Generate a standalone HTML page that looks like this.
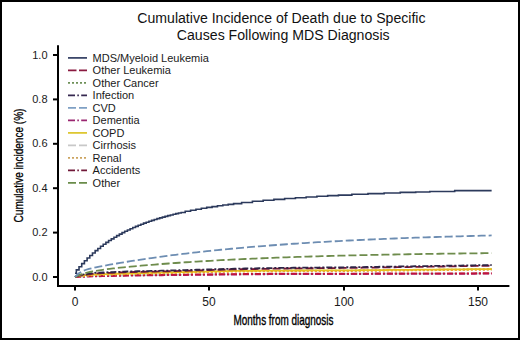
<!DOCTYPE html>
<html><head><meta charset="utf-8"><title>Chart</title>
<style>html,body{margin:0;padding:0;background:#fff;}body{width:520px;height:340px;overflow:hidden;font-family:"Liberation Sans",sans-serif;}svg{display:block;}</style>
</head><body>
<svg width="520" height="340" viewBox="0 0 520 340">
<rect x="0" y="0" width="520" height="340" fill="#fff"/>
<g font-family="Liberation Sans, sans-serif" fill="#111">
<text x="137.3" y="22.9" font-size="14" textLength="288.2" lengthAdjust="spacingAndGlyphs">Cumulative Incidence of Death due to Specific</text>
<text x="176.8" y="40.2" font-size="14" textLength="212.8" lengthAdjust="spacingAndGlyphs">Causes Following MDS Diagnosis</text>
</g>
<g fill="none" stroke-width="1.8" stroke-linejoin="miter">
<path d="M75.00,277.00L78.47,276.75L81.94,276.62L85.42,276.49L88.89,276.36L92.36,276.23L95.83,276.10L99.30,276.03L102.78,275.97L106.25,275.90L109.72,275.83L113.19,275.76L116.66,275.69L120.14,275.62L123.61,275.55L127.08,275.48L130.55,275.42L134.02,275.38L137.50,275.33L140.97,275.28L144.44,275.24L147.91,275.19L151.38,275.15L154.86,275.10L158.33,275.06L161.80,275.01L165.27,274.96L168.74,274.92L172.22,274.88L175.69,274.85L179.16,274.82L182.63,274.79L186.10,274.75L189.58,274.72L193.05,274.69L196.52,274.66L199.99,274.62L203.46,274.59L206.94,274.56L210.41,274.53L213.88,274.49L217.35,274.46L220.82,274.43L224.30,274.40L227.77,274.37L231.24,274.33L234.71,274.30L238.18,274.27L241.66,274.24L245.13,274.21L248.60,274.17L252.07,274.14L255.54,274.11L259.02,274.08L262.49,274.05L265.96,274.01L269.43,273.98L272.90,273.95L276.38,273.92L279.85,273.89L283.32,273.89L286.79,273.88L290.26,273.87L293.74,273.87L297.21,273.86L300.68,273.86L304.15,273.85L307.62,273.85L311.10,273.84L314.57,273.84L318.04,273.83L321.51,273.82L324.98,273.82L328.46,273.81L331.93,273.81L335.40,273.80L338.87,273.80L342.34,273.79L345.82,273.79L349.29,273.78L352.76,273.78L356.23,273.77L359.70,273.77L363.18,273.76L366.65,273.76L370.12,273.75L373.59,273.74L377.06,273.74L380.54,273.73L384.01,273.73L387.48,273.72L390.95,273.72L394.42,273.71L397.90,273.71L401.37,273.70L404.84,273.70L408.31,273.69L411.78,273.69L415.26,273.68L418.73,273.68L422.20,273.67L425.67,273.67L429.14,273.65L432.62,273.64L436.09,273.63L439.56,273.62L443.03,273.61L446.50,273.60L449.98,273.59L453.45,273.57L456.92,273.56L460.39,273.55L463.86,273.54L467.34,273.53L470.81,273.52L474.28,273.51L477.75,273.49L481.22,273.48L484.70,273.47L488.17,273.46L491.64,273.45" stroke="#c6c6c6" stroke-dasharray="8 3"/>
<path d="M75.00,277.00L78.47,276.97L81.94,276.84L85.42,276.71L88.89,276.58L92.36,276.45L95.83,276.33L99.30,276.26L102.78,276.19L106.25,276.12L109.72,276.05L113.19,275.98L116.66,275.91L120.14,275.84L123.61,275.77L127.08,275.70L130.55,275.64L134.02,275.60L137.50,275.55L140.97,275.51L144.44,275.46L147.91,275.41L151.38,275.37L154.86,275.32L158.33,275.28L161.80,275.23L165.27,275.19L168.74,275.14L172.22,275.11L175.69,275.07L179.16,275.04L182.63,275.01L186.10,274.98L189.58,274.94L193.05,274.91L196.52,274.88L199.99,274.85L203.46,274.81L206.94,274.78L210.41,274.75L213.88,274.72L217.35,274.68L220.82,274.65L224.30,274.62L227.77,274.59L231.24,274.55L234.71,274.52L238.18,274.49L241.66,274.46L245.13,274.43L248.60,274.40L252.07,274.36L255.54,274.33L259.02,274.30L262.49,274.27L265.96,274.24L269.43,274.20L272.90,274.17L276.38,274.14L279.85,274.11L283.32,274.11L286.79,274.10L290.26,274.10L293.74,274.09L297.21,274.09L300.68,274.08L304.15,274.07L307.62,274.07L311.10,274.06L314.57,274.06L318.04,274.05L321.51,274.05L324.98,274.04L328.46,274.04L331.93,274.03L335.40,274.02L338.87,274.02L342.34,274.01L345.82,274.01L349.29,274.00L352.76,274.00L356.23,273.99L359.70,273.99L363.18,273.98L366.65,273.98L370.12,273.97L373.59,273.97L377.06,273.96L380.54,273.96L384.01,273.95L387.48,273.95L390.95,273.94L394.42,273.94L397.90,273.93L401.37,273.93L404.84,273.92L408.31,273.92L411.78,273.91L415.26,273.91L418.73,273.90L422.20,273.90L425.67,273.89L429.14,273.88L432.62,273.86L436.09,273.85L439.56,273.84L443.03,273.83L446.50,273.82L449.98,273.81L453.45,273.80L456.92,273.78L460.39,273.77L463.86,273.76L467.34,273.75L470.81,273.74L474.28,273.73L477.75,273.72L481.22,273.70L484.70,273.69L488.17,273.68L491.64,273.67" stroke="#b3206e" stroke-dasharray="6 2 2 2"/>
<path d="M75.00,277.00L78.47,276.53L81.94,276.40L85.42,276.27L88.89,276.14L92.36,276.01L95.83,275.88L99.30,275.81L102.78,275.74L106.25,275.67L109.72,275.60L113.19,275.54L116.66,275.47L120.14,275.40L123.61,275.33L127.08,275.26L130.55,275.20L134.02,275.15L137.50,275.11L140.97,275.06L144.44,275.02L147.91,274.97L151.38,274.93L154.86,274.88L158.33,274.83L161.80,274.79L165.27,274.74L168.74,274.70L172.22,274.66L175.69,274.63L179.16,274.60L182.63,274.56L186.10,274.53L189.58,274.50L193.05,274.47L196.52,274.44L199.99,274.40L203.46,274.37L206.94,274.34L210.41,274.31L213.88,274.27L217.35,274.24L220.82,274.21L224.30,274.18L227.77,274.14L231.24,274.11L234.71,274.08L238.18,274.05L241.66,274.02L245.13,273.98L248.60,273.95L252.07,273.92L255.54,273.89L259.02,273.86L262.49,273.82L265.96,273.79L269.43,273.76L272.90,273.73L276.38,273.70L279.85,273.67L283.32,273.66L286.79,273.66L290.26,273.65L293.74,273.65L297.21,273.64L300.68,273.64L304.15,273.63L307.62,273.62L311.10,273.62L314.57,273.61L318.04,273.61L321.51,273.60L324.98,273.60L328.46,273.59L331.93,273.59L335.40,273.58L338.87,273.58L342.34,273.57L345.82,273.56L349.29,273.56L352.76,273.55L356.23,273.55L359.70,273.54L363.18,273.54L366.65,273.53L370.12,273.53L373.59,273.52L377.06,273.52L380.54,273.51L384.01,273.51L387.48,273.50L390.95,273.50L394.42,273.49L397.90,273.49L401.37,273.48L404.84,273.48L408.31,273.47L411.78,273.47L415.26,273.46L418.73,273.46L422.20,273.45L425.67,273.44L429.14,273.43L432.62,273.42L436.09,273.41L439.56,273.40L443.03,273.39L446.50,273.38L449.98,273.36L453.45,273.35L456.92,273.34L460.39,273.33L463.86,273.32L467.34,273.31L470.81,273.29L474.28,273.28L477.75,273.27L481.22,273.26L484.70,273.25L488.17,273.24L491.64,273.23" stroke="#c0143a" stroke-dasharray="6 2 2 2"/>
<path d="M75.00,277.00L78.47,276.04L81.94,275.74L85.42,275.44L88.89,275.13L92.36,274.83L95.83,274.55L99.30,274.45L102.78,274.36L106.25,274.27L109.72,274.18L113.19,274.08L116.66,273.99L120.14,273.90L123.61,273.81L127.08,273.71L130.55,273.62L134.02,273.53L137.50,273.44L140.97,273.35L144.44,273.26L147.91,273.17L151.38,273.08L154.86,272.99L158.33,272.90L161.80,272.81L165.27,272.73L168.74,272.64L172.22,272.56L175.69,272.48L179.16,272.40L182.63,272.32L186.10,272.24L189.58,272.16L193.05,272.08L196.52,272.01L199.99,271.93L203.46,271.85L206.94,271.77L210.41,271.69L213.88,271.61L217.35,271.53L220.82,271.46L224.30,271.38L227.77,271.30L231.24,271.22L234.71,271.19L238.18,271.16L241.66,271.13L245.13,271.10L248.60,271.07L252.07,271.03L255.54,271.00L259.02,270.97L262.49,270.94L265.96,270.91L269.43,270.87L272.90,270.84L276.38,270.81L279.85,270.78L283.32,270.77L286.79,270.76L290.26,270.75L293.74,270.74L297.21,270.73L300.68,270.72L304.15,270.71L307.62,270.69L311.10,270.68L314.57,270.67L318.04,270.66L321.51,270.65L324.98,270.64L328.46,270.63L331.93,270.62L335.40,270.61L338.87,270.59L342.34,270.58L345.82,270.57L349.29,270.56L352.76,270.53L356.23,270.50L359.70,270.47L363.18,270.44L366.65,270.41L370.12,270.38L373.59,270.35L377.06,270.32L380.54,270.28L384.01,270.25L387.48,270.22L390.95,270.19L394.42,270.16L397.90,270.13L401.37,270.10L404.84,270.07L408.31,270.04L411.78,270.01L415.26,269.98L418.73,269.95L422.20,269.92L425.67,269.88L429.14,269.85L432.62,269.81L436.09,269.78L439.56,269.75L443.03,269.71L446.50,269.68L449.98,269.64L453.45,269.61L456.92,269.57L460.39,269.54L463.86,269.51L467.34,269.47L470.81,269.44L474.28,269.40L477.75,269.37L481.22,269.33L484.70,269.30L488.17,269.26L491.64,269.23" stroke="#6aa040" stroke-dasharray="2 2"/>
<path d="M75.00,277.00L78.47,276.49L81.94,276.18L85.42,275.88L88.89,275.57L92.36,275.27L95.83,274.99L99.30,274.90L102.78,274.81L106.25,274.71L109.72,274.62L113.19,274.53L116.66,274.44L120.14,274.34L123.61,274.25L127.08,274.16L130.55,274.07L134.02,273.98L137.50,273.89L140.97,273.80L144.44,273.71L147.91,273.62L151.38,273.53L154.86,273.44L158.33,273.35L161.80,273.26L165.27,273.17L168.74,273.08L172.22,273.00L175.69,272.92L179.16,272.84L182.63,272.76L186.10,272.69L189.58,272.61L193.05,272.53L196.52,272.45L199.99,272.37L203.46,272.29L206.94,272.21L210.41,272.14L213.88,272.06L217.35,271.98L220.82,271.90L224.30,271.82L227.77,271.74L231.24,271.67L234.71,271.64L238.18,271.61L241.66,271.57L245.13,271.54L248.60,271.51L252.07,271.48L255.54,271.45L259.02,271.41L262.49,271.38L265.96,271.35L269.43,271.32L272.90,271.29L276.38,271.25L279.85,271.23L283.32,271.22L286.79,271.20L290.26,271.19L293.74,271.18L297.21,271.17L300.68,271.16L304.15,271.15L307.62,271.14L311.10,271.13L314.57,271.12L318.04,271.10L321.51,271.09L324.98,271.08L328.46,271.07L331.93,271.06L335.40,271.05L338.87,271.04L342.34,271.03L345.82,271.02L349.29,271.01L352.76,270.97L356.23,270.94L359.70,270.91L363.18,270.88L366.65,270.85L370.12,270.82L373.59,270.79L377.06,270.76L380.54,270.73L384.01,270.70L387.48,270.67L390.95,270.64L394.42,270.61L397.90,270.57L401.37,270.54L404.84,270.51L408.31,270.48L411.78,270.45L415.26,270.42L418.73,270.39L422.20,270.36L425.67,270.33L429.14,270.29L432.62,270.26L436.09,270.22L439.56,270.19L443.03,270.16L446.50,270.12L449.98,270.09L453.45,270.05L456.92,270.02L460.39,269.98L463.86,269.95L467.34,269.91L470.81,269.88L474.28,269.85L477.75,269.81L481.22,269.78L484.70,269.74L488.17,269.71L491.64,269.67" stroke="#f0a030" stroke-dasharray="2 2"/>
<path d="M75.00,277.00L78.47,275.82L81.94,275.52L85.42,275.21L88.89,274.91L92.36,274.60L95.83,274.33L99.30,274.23L102.78,274.14L106.25,274.05L109.72,273.96L113.19,273.86L116.66,273.77L120.14,273.68L123.61,273.59L127.08,273.49L130.55,273.40L134.02,273.31L137.50,273.22L140.97,273.13L144.44,273.04L147.91,272.95L151.38,272.86L154.86,272.77L158.33,272.68L161.80,272.59L165.27,272.50L168.74,272.41L172.22,272.33L175.69,272.26L179.16,272.18L182.63,272.10L186.10,272.02L189.58,271.94L193.05,271.86L196.52,271.78L199.99,271.71L203.46,271.63L206.94,271.55L210.41,271.47L213.88,271.39L217.35,271.31L220.82,271.23L224.30,271.16L227.77,271.08L231.24,271.00L234.71,270.97L238.18,270.94L241.66,270.91L245.13,270.88L248.60,270.84L252.07,270.81L255.54,270.78L259.02,270.75L262.49,270.72L265.96,270.68L269.43,270.65L272.90,270.62L276.38,270.59L279.85,270.56L283.32,270.55L286.79,270.54L290.26,270.53L293.74,270.52L297.21,270.51L300.68,270.49L304.15,270.48L307.62,270.47L311.10,270.46L314.57,270.45L318.04,270.44L321.51,270.43L324.98,270.42L328.46,270.41L331.93,270.39L335.40,270.38L338.87,270.37L342.34,270.36L345.82,270.35L349.29,270.34L352.76,270.31L356.23,270.28L359.70,270.25L363.18,270.22L366.65,270.19L370.12,270.15L373.59,270.12L377.06,270.09L380.54,270.06L384.01,270.03L387.48,270.00L390.95,269.97L394.42,269.94L397.90,269.91L401.37,269.88L404.84,269.85L408.31,269.82L411.78,269.79L415.26,269.76L418.73,269.72L422.20,269.69L425.67,269.66L429.14,269.63L432.62,269.59L436.09,269.56L439.56,269.52L443.03,269.49L446.50,269.46L449.98,269.42L453.45,269.39L456.92,269.35L460.39,269.32L463.86,269.28L467.34,269.25L470.81,269.21L474.28,269.18L477.75,269.15L481.22,269.11L484.70,269.08L488.17,269.04L491.64,269.01" stroke="#e8c020"/>
<path d="M75.00,277.00L78.47,275.78L81.94,275.30L85.42,274.83L88.89,274.35L92.36,273.87L95.83,273.43L99.30,273.29L102.78,273.15L106.25,273.02L109.72,272.88L113.19,272.74L116.66,272.60L120.14,272.46L123.61,272.32L127.08,272.18L130.55,272.08L134.02,272.00L137.50,271.92L140.97,271.85L144.44,271.77L147.91,271.69L151.38,271.62L154.86,271.54L158.33,271.46L161.80,271.39L165.27,271.31L168.74,271.24L172.22,271.14L175.69,271.04L179.16,270.94L182.63,270.84L186.10,270.74L189.58,270.64L193.05,270.54L196.52,270.44L199.99,270.34L203.46,270.24L206.94,270.14L210.41,270.04L213.88,269.94L217.35,269.84L220.82,269.74L224.30,269.64L227.77,269.54L231.24,269.45L234.71,269.38L238.18,269.32L241.66,269.25L245.13,269.19L248.60,269.13L252.07,269.06L255.54,269.00L259.02,268.94L262.49,268.87L265.96,268.81L269.43,268.74L272.90,268.68L276.38,268.62L279.85,268.56L283.32,268.53L286.79,268.49L290.26,268.46L293.74,268.43L297.21,268.39L300.68,268.36L304.15,268.33L307.62,268.29L311.10,268.26L314.57,268.23L318.04,268.19L321.51,268.16L324.98,268.13L328.46,268.10L331.93,268.06L335.40,268.03L338.87,268.00L342.34,267.96L345.82,267.93L349.29,267.90L352.76,267.85L356.23,267.79L359.70,267.74L363.18,267.69L366.65,267.64L370.12,267.59L373.59,267.54L377.06,267.49L380.54,267.44L384.01,267.38L387.48,267.33L390.95,267.28L394.42,267.23L397.90,267.18L401.37,267.13L404.84,267.08L408.31,267.03L411.78,266.97L415.26,266.92L418.73,266.87L422.20,266.82L425.67,266.77L429.14,266.71L432.62,266.65L436.09,266.60L439.56,266.54L443.03,266.48L446.50,266.42L449.98,266.37L453.45,266.31L456.92,266.25L460.39,266.19L463.86,266.14L467.34,266.08L470.81,266.02L474.28,265.96L477.75,265.91L481.22,265.85L484.70,265.79L488.17,265.74L491.64,265.68" stroke="#7a1535" stroke-dasharray="8 3"/>
<path d="M75.00,277.00L78.47,275.12L81.94,274.64L85.42,274.16L88.89,273.68L92.36,273.20L95.83,272.77L99.30,272.63L102.78,272.49L106.25,272.35L109.72,272.21L113.19,272.07L116.66,271.93L120.14,271.79L123.61,271.66L127.08,271.52L130.55,271.41L134.02,271.33L137.50,271.26L140.97,271.18L144.44,271.10L147.91,271.03L151.38,270.95L154.86,270.88L158.33,270.80L161.80,270.72L165.27,270.65L168.74,270.57L172.22,270.47L175.69,270.37L179.16,270.27L182.63,270.17L186.10,270.07L189.58,269.97L193.05,269.87L196.52,269.77L199.99,269.67L203.46,269.57L206.94,269.47L210.41,269.37L213.88,269.28L217.35,269.18L220.82,269.08L224.30,268.98L227.77,268.88L231.24,268.78L234.71,268.72L238.18,268.65L241.66,268.59L245.13,268.52L248.60,268.46L252.07,268.40L255.54,268.33L259.02,268.27L262.49,268.21L265.96,268.14L269.43,268.08L272.90,268.02L276.38,267.95L279.85,267.89L283.32,267.86L286.79,267.83L290.26,267.79L293.74,267.76L297.21,267.73L300.68,267.69L304.15,267.66L307.62,267.63L311.10,267.59L314.57,267.56L318.04,267.53L321.51,267.50L324.98,267.46L328.46,267.43L331.93,267.40L335.40,267.36L338.87,267.33L342.34,267.30L345.82,267.26L349.29,267.23L352.76,267.18L356.23,267.13L359.70,267.08L363.18,267.03L366.65,266.97L370.12,266.92L373.59,266.87L377.06,266.82L380.54,266.77L384.01,266.72L387.48,266.67L390.95,266.62L394.42,266.56L397.90,266.51L401.37,266.46L404.84,266.41L408.31,266.36L411.78,266.31L415.26,266.26L418.73,266.21L422.20,266.16L425.67,266.10L429.14,266.04L432.62,265.99L436.09,265.93L439.56,265.87L443.03,265.81L446.50,265.76L449.98,265.70L453.45,265.64L456.92,265.59L460.39,265.53L463.86,265.47L467.34,265.41L470.81,265.36L474.28,265.30L477.75,265.24L481.22,265.18L484.70,265.13L488.17,265.07L491.64,265.01" stroke="#2e2446" stroke-dasharray="6 2 2 2"/>
<path d="M75.00,277.00L78.47,275.42L81.94,274.15L85.42,273.09L88.89,272.24L92.36,271.50L95.83,270.86L99.30,270.29L102.78,269.78L106.25,269.31L109.72,268.88L113.19,268.47L116.66,268.08L120.14,267.70L123.61,267.35L127.08,267.00L130.55,266.66L134.02,266.34L137.50,266.02L140.97,265.71L144.44,265.41L147.91,265.12L151.38,264.83L154.86,264.55L158.33,264.27L161.80,264.00L165.27,263.74L168.74,263.48L172.22,263.23L175.69,262.98L179.16,262.74L182.63,262.50L186.10,262.27L189.58,262.04L193.05,261.82L196.52,261.60L199.99,261.39L203.46,261.18L206.94,260.98L210.41,260.78L213.88,260.58L217.35,260.39L220.82,260.21L224.30,260.02L227.77,259.84L231.24,259.67L234.71,259.49L238.18,259.33L241.66,259.16L245.13,259.00L248.60,258.84L252.07,258.69L255.54,258.54L259.02,258.39L262.49,258.24L265.96,258.10L269.43,257.96L272.90,257.82L276.38,257.69L279.85,257.56L283.32,257.43L286.79,257.31L290.26,257.18L293.74,257.06L297.21,256.95L300.68,256.83L304.15,256.72L307.62,256.61L311.10,256.50L314.57,256.40L318.04,256.29L321.51,256.19L324.98,256.09L328.46,255.99L331.93,255.90L335.40,255.81L338.87,255.72L342.34,255.63L345.82,255.54L349.29,255.45L352.76,255.37L356.23,255.29L359.70,255.21L363.18,255.13L366.65,255.05L370.12,254.98L373.59,254.90L377.06,254.83L380.54,254.76L384.01,254.69L387.48,254.62L390.95,254.56L394.42,254.49L397.90,254.43L401.37,254.37L404.84,254.31L408.31,254.25L411.78,254.19L415.26,254.13L418.73,254.08L422.20,254.02L425.67,253.97L429.14,253.92L432.62,253.86L436.09,253.81L439.56,253.77L443.03,253.72L446.50,253.67L449.98,253.62L453.45,253.58L456.92,253.53L460.39,253.49L463.86,253.45L467.34,253.41L470.81,253.37L474.28,253.33L477.75,253.29L481.22,253.25L484.70,253.21L488.17,253.18L491.64,253.14" stroke="#6e8c4c" stroke-dasharray="8 3"/>
<path d="M75.00,277.00L78.47,273.55L81.94,271.42L85.42,269.98L88.89,268.95L92.36,268.10L95.83,267.34L99.30,266.64L102.78,265.98L106.25,265.33L109.72,264.70L113.19,264.09L116.66,263.49L120.14,262.90L123.61,262.32L127.08,261.75L130.55,261.19L134.02,260.64L137.50,260.11L140.97,259.58L144.44,259.06L147.91,258.55L151.38,258.05L154.86,257.56L158.33,257.08L161.80,256.60L165.27,256.14L168.74,255.68L172.22,255.23L175.69,254.79L179.16,254.36L182.63,253.94L186.10,253.52L189.58,253.11L193.05,252.71L196.52,252.32L199.99,251.93L203.46,251.55L206.94,251.18L210.41,250.81L213.88,250.45L217.35,250.10L220.82,249.75L224.30,249.41L227.77,249.08L231.24,248.75L234.71,248.43L238.18,248.11L241.66,247.80L245.13,247.49L248.60,247.19L252.07,246.90L255.54,246.61L259.02,246.33L262.49,246.05L265.96,245.77L269.43,245.51L272.90,245.24L276.38,244.98L279.85,244.73L283.32,244.48L286.79,244.23L290.26,243.99L293.74,243.76L297.21,243.53L300.68,243.30L304.15,243.07L307.62,242.85L311.10,242.64L314.57,242.43L318.04,242.22L321.51,242.02L324.98,241.81L328.46,241.62L331.93,241.42L335.40,241.24L338.87,241.05L342.34,240.87L345.82,240.69L349.29,240.51L352.76,240.34L356.23,240.17L359.70,240.00L363.18,239.84L366.65,239.68L370.12,239.52L373.59,239.36L377.06,239.21L380.54,239.06L384.01,238.91L387.48,238.77L390.95,238.63L394.42,238.49L397.90,238.35L401.37,238.22L404.84,238.09L408.31,237.96L411.78,237.83L415.26,237.71L418.73,237.58L422.20,237.46L425.67,237.35L429.14,237.23L432.62,237.12L436.09,237.00L439.56,236.89L443.03,236.79L446.50,236.68L449.98,236.58L453.45,236.48L456.92,236.38L460.39,236.28L463.86,236.18L467.34,236.09L470.81,235.99L474.28,235.90L477.75,235.81L481.22,235.72L484.70,235.64L488.17,235.55L491.64,235.47" stroke="#6d8db2" stroke-dasharray="8 3"/>
<path d="M75.00,273.25H76.34V269.88H79.03V266.68H81.72V263.65H84.41V260.78H87.10V258.05H89.78V255.46H92.47V253.00H95.16V250.66H97.85V248.44H100.54V246.32H103.22V244.31H105.91V242.39H108.60V240.57H111.29V238.83H113.98V237.18H116.66V235.60H119.35V234.09H122.04V232.65H124.73V231.27H127.42V229.95H130.10V228.70H132.79V227.49H135.48V226.34H138.17V225.24H140.86V224.18H143.54V223.16H146.23V222.19H148.92V221.25H151.61V220.36H154.30V219.49H156.98V218.66H159.67V217.87H162.36V217.10H165.05V216.36H167.74V215.64H170.42V214.95H173.11V214.29H175.80V213.65H178.49V213.03H181.18V212.43H185.21V211.30H190.58V210.23H195.96V209.23H201.34V208.30H206.71V207.41H212.09V206.58H217.46V205.79H222.84V205.05H228.22V204.34H233.59V203.67H241.66V202.43H252.41V201.30H263.16V200.28H273.91V199.34H284.66V198.48H295.42V197.69H306.17V196.96H316.92V196.29H327.67V195.67H338.42V195.10H351.86V194.31H367.99V193.61H384.12V192.98H400.25V192.41H415.70V191.95H429.82V191.56H454.68V190.67H491.64" stroke="#2c3a5c" stroke-width="1.6"/>
</g>
<g stroke="#000" stroke-width="2" fill="none">
<path d="M58,45.3V286M57,286H509.4"/>
<path d="M53,277.0H58"/>
<path d="M53,232.6H58"/>
<path d="M53,188.2H58"/>
<path d="M53,143.8H58"/>
<path d="M53,99.4H58"/>
<path d="M53,55.0H58"/>
<path d="M75,286V290.6"/>
<path d="M209,286V290.6"/>
<path d="M344,286V290.6"/>
<path d="M478,286V290.6"/>
</g>
<g font-family="Liberation Sans, sans-serif" fill="#1a1a1a">
<text x="47.5" y="280.5" font-size="11" text-anchor="end">0.0</text>
<text x="47.5" y="236.1" font-size="11" text-anchor="end">0.2</text>
<text x="47.5" y="191.7" font-size="11" text-anchor="end">0.4</text>
<text x="47.5" y="147.3" font-size="11" text-anchor="end">0.6</text>
<text x="47.5" y="102.9" font-size="11" text-anchor="end">0.8</text>
<text x="47.5" y="58.5" font-size="11" text-anchor="end">1.0</text>
<text x="75" y="305.5" font-size="12" text-anchor="middle">0</text>
<text x="209" y="305.5" font-size="12" text-anchor="middle">50</text>
<text x="344" y="305.5" font-size="12" text-anchor="middle">100</text>
<text x="478" y="305.5" font-size="12" text-anchor="middle">150</text>
<text x="233.5" y="325.2" font-size="14.5" fill="#000" stroke="#000" stroke-width="0.35" textLength="100" lengthAdjust="spacingAndGlyphs">Months from diagnosis</text>
<text transform="translate(22.5,222.4) rotate(-90)" x="0" y="0" font-size="13.5" fill="#000" stroke="#000" stroke-width="0.3" textLength="113.8" lengthAdjust="spacingAndGlyphs">Cumulative incidence (%)</text>
<path d="M68,57.9H87" stroke="#323e62" stroke-width="1.7" fill="none"/>
<text x="92.6" y="61.7" font-size="11">MDS/Myeloid Leukemia</text>
<path d="M68,70.4H87" stroke="#8a1a40" stroke-width="1.7" stroke-dasharray="8.5 2.5" fill="none"/>
<text x="92.6" y="74.2" font-size="11">Other Leukemia</text>
<path d="M68,82.9H87" stroke="#6e9058" stroke-width="1.7" stroke-dasharray="2 2" fill="none"/>
<text x="92.6" y="86.7" font-size="11">Other Cancer</text>
<path d="M68,95.4H87" stroke="#362850" stroke-width="1.7" stroke-dasharray="7 2.3 1.6 2.3" fill="none"/>
<text x="92.6" y="99.2" font-size="11">Infection</text>
<path d="M68,107.9H87" stroke="#7fa0c4" stroke-width="1.7" stroke-dasharray="8 3" fill="none"/>
<text x="92.6" y="111.7" font-size="11">CVD</text>
<path d="M68,120.4H87" stroke="#9a2670" stroke-width="1.7" stroke-dasharray="7 2.3 1.6 2.3" fill="none"/>
<text x="92.6" y="124.2" font-size="11">Dementia</text>
<path d="M68,132.9H87" stroke="#dcc428" stroke-width="1.7" fill="none"/>
<text x="92.6" y="136.7" font-size="11">COPD</text>
<path d="M68,145.4H87" stroke="#c8c8c8" stroke-width="1.7" stroke-dasharray="8 3" fill="none"/>
<text x="92.6" y="149.2" font-size="11">Cirrhosis</text>
<path d="M68,157.9H87" stroke="#cca460" stroke-width="1.7" stroke-dasharray="2 2" fill="none"/>
<text x="92.6" y="161.7" font-size="11">Renal</text>
<path d="M68,170.4H87" stroke="#701838" stroke-width="1.7" stroke-dasharray="7 2.3 1.6 2.3" fill="none"/>
<text x="92.6" y="174.2" font-size="11">Accidents</text>
<path d="M68,182.9H87" stroke="#6a8c4a" stroke-width="1.7" stroke-dasharray="8 3" fill="none"/>
<text x="92.6" y="186.7" font-size="11">Other</text>
</g>
<rect x="1" y="1" width="518" height="338" fill="none" stroke="#000" stroke-width="2"/>
</svg>
</body></html>
